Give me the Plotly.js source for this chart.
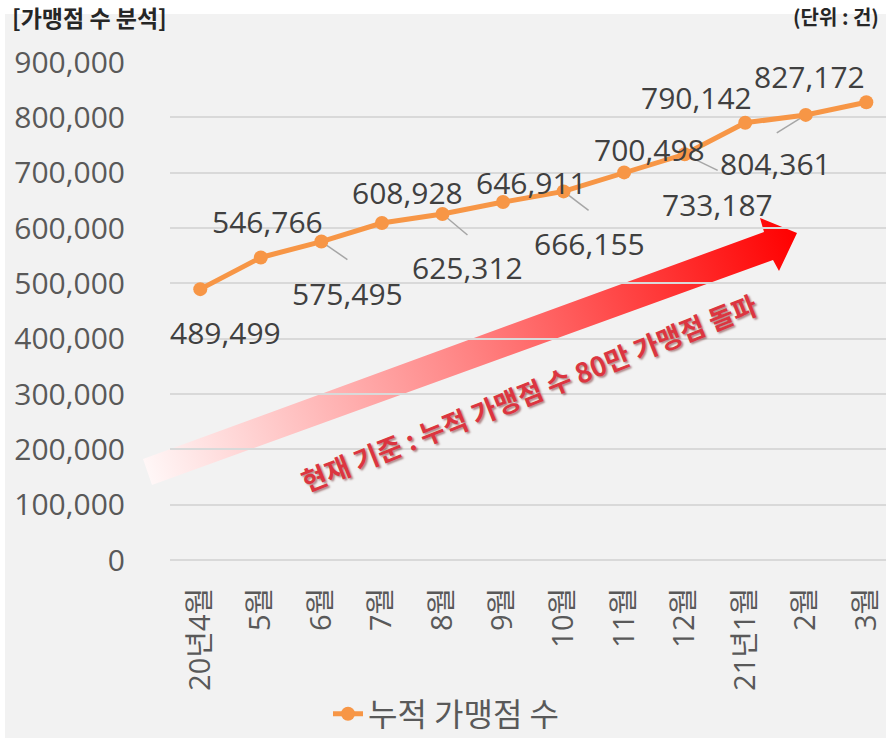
<!DOCTYPE html>
<html>
<head>
<meta charset="utf-8">
<script src="https://cdn.plot.ly/plotly-3.0.1.min.js"></script>
<style>
  html, body { margin: 0; padding: 0; background: #ffffff; }
  #chart { width: 886px; height: 738px; }
</style>
</head>
<body>
<div id="chart"></div>
<script>
// ---- data ----
const months = ['20년4월', '5월', '6월', '7월', '8월', '9월', '10월', '11월', '12월', '21년1월', '2월', '3월'];
const stores = [489499, 546766, 575495, 608928, 625312, 646911, 666155, 700498, 733187, 790142, 804361, 827172];
const yTickVals = [0, 100000, 200000, 300000, 400000, 500000, 600000, 700000, 800000, 900000];
const seriesName = '누적 가맹점 수';
const chartTitle = '[가맹점 수 분석]';
const unitText = '(단위 : 건)';
const calloutText = '현재 기준 : 누적 가맹점 수 80만 가맹점 돌파';

// ---- label placement (pixel offsets: right, down) ----
const labelOffsets = [[25, 43], [7, -36], [26, 52], [26, -31], [25, 54], [28, -20], [26, 52], [25, -23], [33, 50], [-49, -25], [-30, 49], [-57, -26]];
const leaderLines = {2: [26, 18], 4: [25, 21], 6: [25, 19], 8: [33, 16], 10: [-29, 18]};

// ---- geometry helpers ----
const W = 886, H = 738, ML = 170, MR = 0, MT = 62, MB = 178;
const PW = W - ML - MR, PH = H - MT - MB;
const px2x = px => (px - ML) / PW;
const px2y = py => (H - MB - py) / PH;

const numFont = "'Open Sans', 'Noto Sans CJK KR', sans-serif";
const korFont = "'Noto Sans CJK KR', 'Open Sans', sans-serif";
const fmt = v => v.toLocaleString('en-US');

const annotations = stores.map((v, i) => ({
  x: i, y: v, xref: 'x', yref: 'y',
  text: fmt(v), showarrow: false,
  xshift: labelOffsets[i][0], yshift: -labelOffsets[i][1],
  font: {family: numFont, size: 30, color: '#404040'}
}));

annotations.push({
  xref: 'paper', yref: 'paper', x: px2x(10), y: px2y(17), xanchor: 'left', yanchor: 'middle',
  text: chartTitle, showarrow: false,
  font: {family: korFont, size: 23, color: '#262626', weight: 700}
});
annotations.push({
  xref: 'paper', yref: 'paper', x: px2x(881), y: px2y(17), xanchor: 'right', yanchor: 'middle',
  text: unitText, showarrow: false,
  font: {family: korFont, size: 20, color: '#262626', weight: 700}
});
annotations.push({
  xref: 'paper', yref: 'paper', x: px2x(528), y: px2y(392), xanchor: 'center', yanchor: 'middle',
  text: calloutText, showarrow: false, textangle: -21.6,
  font: {family: korFont, size: 27, color: '#dc3540', weight: 700, shadow: '1px 2px 2px rgba(90,0,0,0.45)'}
});

const shapes = [
  // white strips outside grey chart panel
  {type: 'rect', xref: 'paper', yref: 'paper', layer: 'below', x0: px2x(0), x1: px2x(W), y0: px2y(14), y1: px2y(0), fillcolor: '#ffffff', line: {width: 0}},
  {type: 'rect', xref: 'paper', yref: 'paper', layer: 'below', x0: px2x(0), x1: px2x(5), y0: px2y(H), y1: px2y(0), fillcolor: '#ffffff', line: {width: 0}}
];
Object.keys(leaderLines).forEach(k => {
  const i = +k, d = leaderLines[k];
  shapes.push({
    type: 'line', layer: 'between', xref: 'x', yref: 'y',
    xsizemode: 'pixel', ysizemode: 'pixel', xanchor: i, yanchor: stores[i],
    x0: 0, y0: 0, x1: d[0], y1: -d[1],
    line: {color: '#a6a6a6', width: 1.5}
  });
});

// gradient arrow as an SVG image below the grid
const arrowSvg = "<svg xmlns='http://www.w3.org/2000/svg' width='886' height='738' viewBox='0 0 886 738'>" +
  "<defs><linearGradient id='g' gradientUnits='userSpaceOnUse' x1='147' y1='472' x2='797' y2='233'>" +
  "<stop offset='0' stop-color='#fff7f7'/><stop offset='0.5' stop-color='#ff8282'/><stop offset='1' stop-color='#ff0000'/>" +
  "</linearGradient></defs>" +
  "<polygon points='143,459 764,232 760,218 797,233 779,271 773,260 152,485' fill='url(#g)'/></svg>";

const images = [{
  source: 'data:image/svg+xml;charset=utf-8,' + encodeURIComponent(arrowSvg),
  xref: 'paper', yref: 'paper', x: px2x(0), y: px2y(0), sizex: W / PW, sizey: H / PH,
  xanchor: 'left', yanchor: 'top', sizing: 'stretch', layer: 'below'
}];

const trace = {
  type: 'scatter', mode: 'lines+markers', name: seriesName,
  x: months.map((m, i) => i), y: stores,
  line: {color: '#f79646', width: 5},
  marker: {color: '#f79646', size: 14},
  cliponaxis: false
};

const layout = {
  width: W, height: H,
  margin: {l: ML, r: MR, t: MT, b: MB, pad: 0},
  paper_bgcolor: '#f2f2f2', plot_bgcolor: 'rgba(0,0,0,0)',
  showlegend: true,
  legend: {
    orientation: 'h', xref: 'container', yref: 'container',
    x: 328 / W, y: (H - 714) / H, xanchor: 'left', yanchor: 'middle',
    font: {family: korFont, size: 32, color: '#595959'},
    bgcolor: 'rgba(0,0,0,0)'
  },
  xaxis: {
    type: 'linear', range: [-0.5, 11.325],
    tickmode: 'array', tickvals: months.map((m, i) => i), ticktext: months,
    tickangle: -90, showgrid: false, zeroline: false, showline: false, ticks: '',
    ticklabelstandoff: 21, automargin: false,
    tickfont: {family: numFont, size: 29, color: '#595959'}
  },
  yaxis: {
    range: [0, 900000], tickmode: 'array', tickvals: yTickVals,
    ticktext: yTickVals.map(fmt),
    showgrid: true, gridcolor: '#d9d9d9', gridwidth: 2,
    zeroline: true, zerolinecolor: '#d9d9d9', zerolinewidth: 2,
    showline: false, ticks: '', ticklabelstandoff: 44, automargin: false,
    tickfont: {family: numFont, size: 30, color: '#595959'}
  },
  annotations: annotations,
  shapes: shapes,
  images: images
};

Plotly.newPlot('chart', [trace], layout, {displayModeBar: false, staticPlot: true});
</script>
</body>
</html>
